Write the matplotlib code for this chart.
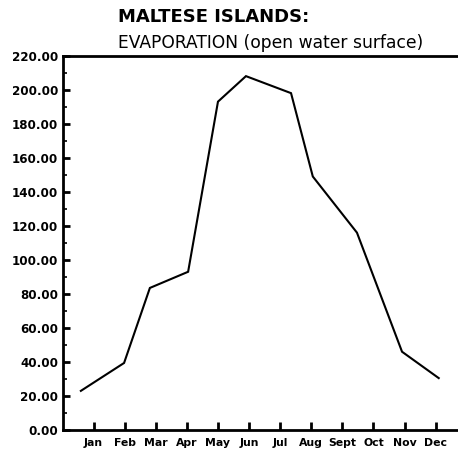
import matplotlib
matplotlib.use("Agg")
import matplotlib.pyplot as plt
from matplotlib.ticker import MultipleLocator

# month ticks and labels
months = ["Jan", "Feb", "Mar", "Apr", "May", "Jun", "Jul", "Aug", "Sept", "Oct", "Nov", "Dec"]
month_pos = list(range(1, 13))

# vertices of the drawn curve (x in month units)
curve_x = [0.59, 1.98, 2.81, 4.04, 5.0, 5.9, 7.35, 8.05, 9.47, 10.92, 12.1]
evap = [23.0, 39.4, 83.5, 93.0, 193.0, 208.0, 198.0, 149.0, 116.0, 46.0, 30.5]

fig = plt.figure(figsize=(4.58, 4.53), dpi=100)
ax = fig.add_axes([0.1365, 0.0508, 0.8635, 0.8262])

ax.plot(curve_x, evap, color="black", lw=1.5, solid_joinstyle="miter")

ax.set_xlim(0, 12.72)
ax.set_ylim(0, 220)

ax.set_xticks(month_pos)
ax.set_xticklabels(months, fontsize=7.8, fontweight="bold")
ax.yaxis.set_major_locator(MultipleLocator(20))
ax.yaxis.set_minor_locator(MultipleLocator(10))
ax.set_yticklabels([f"{v:.2f}" for v in ax.get_yticks()], fontsize=8.6, fontweight="bold")

ax.tick_params(axis="x", direction="in", length=6, width=2, pad=6)
ax.tick_params(axis="y", which="major", direction="in", length=5, width=2, pad=3)
ax.tick_params(axis="y", which="minor", direction="in", length=3, width=1.2)

ax.spines["right"].set_visible(False)
for s in ["left", "bottom", "top"]:
    ax.spines[s].set_linewidth(2)

fig.text(0.258, 0.952, "MALTESE ISLANDS:", fontsize=13, fontweight="bold", ha="left", va="baseline")
fig.text(0.258, 0.895, "EVAPORATION (open water surface)", fontsize=12.3, ha="left", va="baseline")

fig.savefig("out.png", dpi=100)
